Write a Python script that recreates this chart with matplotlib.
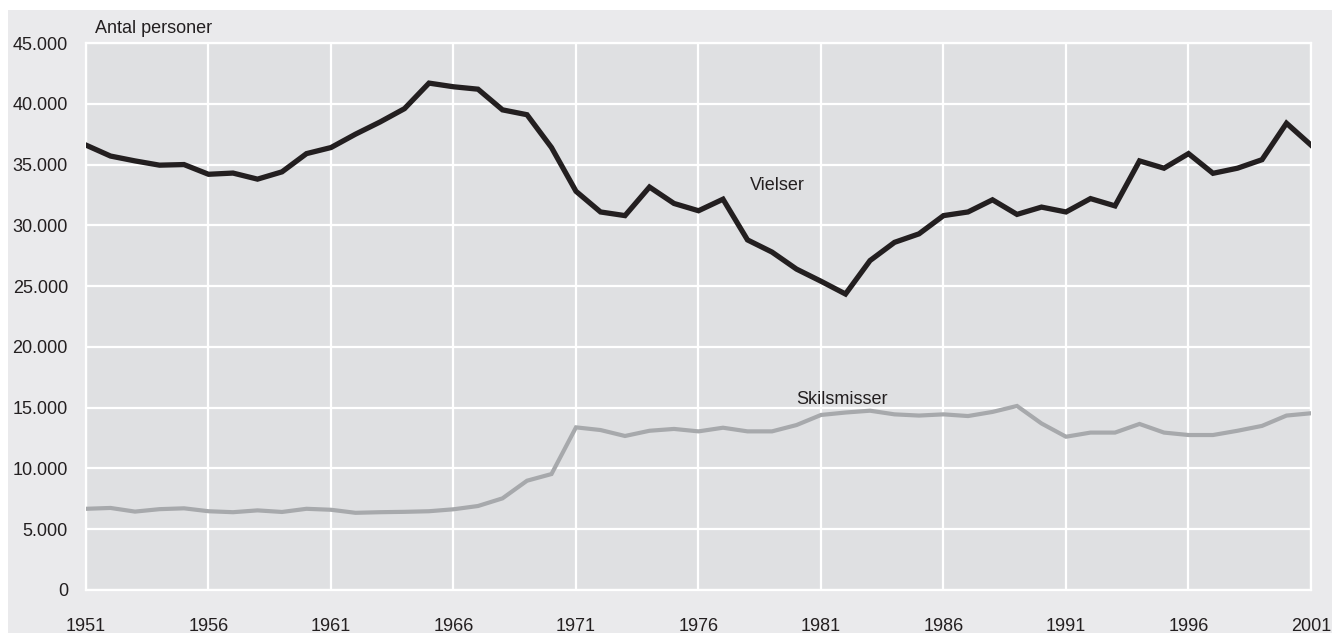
"""Vielser og skilsmisser 1951-2001."""

import matplotlib.pyplot as plt
import matplotlib.patches as mpatches
from matplotlib.ticker import FuncFormatter

plt.rcParams["font.family"] = ["Liberation Sans", "DejaVu Sans"]

years = list(range(1951, 2002))

vielser = [
    36600, 35700, 35300, 34950, 35000, 34200, 34300, 33800, 34400, 35900,
    36400, 37500, 38500, 39600, 41700, 41400, 41200, 39500, 39100, 36400,
    32800, 31100, 30800, 33150, 31800, 31200, 32150, 28800, 27800, 26400,
    25400, 24350, 27100, 28600, 29300, 30800, 31100, 32100, 30900, 31500,
    31100, 32200, 31600, 35300, 34700, 35900, 34280, 34700, 35400, 38400,
    36600,
]

skilsmisser = [
    6680, 6750, 6450, 6650, 6720, 6480, 6400, 6550, 6420, 6680,
    6600, 6350, 6400, 6430, 6480, 6640, 6910, 7540, 8990, 9540,
    13380, 13160, 12670, 13100, 13250, 13050, 13350, 13050, 13050, 13570,
    14400, 14600, 14750, 14450, 14350, 14450, 14310, 14650, 15140, 13700,
    12610, 12950, 12950, 13660, 12950, 12750, 12750, 13100, 13500, 14350,
    14540,
]

y_ticks = list(range(0, 45001, 5000))
x_ticks = list(range(1951, 2002, 5))

BLACK = "#231F20"
GREY_LINE = "#A7A9AC"
PANEL = "#EAEAEC"
PLOT_BG = "#DFE0E2"
FS = 13

W, H = 1332, 633
fig = plt.figure(figsize=(W / 100, H / 100), dpi=100, facecolor="white")

# outer grey panel, behind the axes
panel = mpatches.Rectangle((8 / W, 0), 1 - 8 / W, 1 - 10 / H,
                           transform=fig.transFigure,
                           facecolor=PANEL, edgecolor="none", zorder=-10)
fig.patches.append(panel)

left, right, top, bottom = 86, 1311, 43, 590
ax = fig.add_axes([left / W, 1 - bottom / H, (right - left) / W, (bottom - top) / H])
ax.set_zorder(5)
ax.set_facecolor(PLOT_BG)

ax.plot(years, skilsmisser, color=GREY_LINE, linewidth=3.0, zorder=3,
        solid_joinstyle="miter")
ax.plot(years, vielser, color=BLACK, linewidth=3.8, zorder=4,
        solid_joinstyle="miter")

ax.set_xlim(1951, 2001)
ax.set_ylim(0, 45000)
ax.set_xticks(x_ticks)
ax.set_yticks(y_ticks)
ax.yaxis.set_major_formatter(FuncFormatter(lambda v, p: f"{int(v):,}".replace(",", ".")))
ax.grid(True, color="white", linewidth=1.6, zorder=1)
ax.set_axisbelow(True)
for s in ax.spines.values():
    s.set_color("white")
    s.set_linewidth(1.6)
ax.tick_params(length=0, labelsize=FS, colors=BLACK)
ax.tick_params(axis="x", pad=20)
ax.tick_params(axis="y", pad=13)

ax.text(1951.35, 45800, "Antal personer", fontsize=FS, color=BLACK,
        ha="left", va="baseline", clip_on=False)
ax.text(1978.1, 33300, "Vielser", fontsize=FS, color=BLACK, ha="left", va="center")
ax.text(1980.0, 15700, "Skilsmisser", fontsize=FS, color=BLACK, ha="left", va="center")

fig.savefig("out.png", dpi=100, facecolor=fig.get_facecolor())
